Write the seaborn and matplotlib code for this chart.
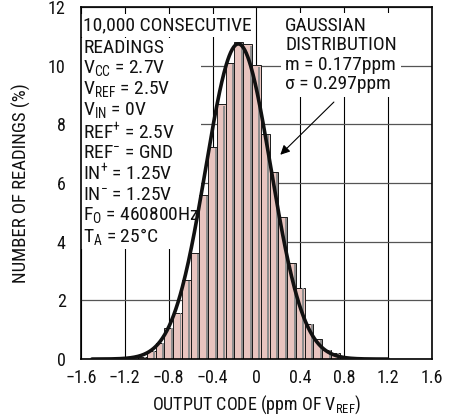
import numpy as np
import matplotlib
matplotlib.use("Agg")
import matplotlib.pyplot as plt
import seaborn as sns
from matplotlib.patches import Rectangle

# histogram of 10,000 readings, one bar per output code (0.08ppm wide)
bin_centers = [-1.04, -0.96, -0.88, -0.80, -0.72, -0.64, -0.56, -0.48, -0.40, -0.32, -0.24, -0.16,
               -0.08, 0.0, 0.08, 0.16, 0.24, 0.32, 0.40, 0.48, 0.56, 0.64, 0.72, 0.80]
readings_pct = [0.08, 0.27, 0.56, 1.07, 1.57, 2.69, 3.60, 5.59, 7.22, 8.68, 10.10, 10.82,
                10.74, 10.02, 7.69, 6.37, 4.85, 3.26, 2.44, 1.19, 0.67, 0.31, 0.22, 0.08]
bin_width = 0.08

# gaussian fit drawn over the bars
fit_mean = -0.165
fit_sigma = 0.297
fit_start, fit_end = -1.5, 1.2

x_ticks = [-1.6, -1.2, -0.8, -0.4, 0, 0.4, 0.8, 1.2, 1.6]
x_ticklabels = ["\u22121.6", "\u22121.2", "\u22120.8", "\u22120.4", "0", "0.4", "0.8", "1.2", "1.6"]
y_ticks = [0, 2, 4, 6, 8, 10, 12]

conditions = ["READINGS",
              "V$_{CC}$ = 2.7V",
              "V$_{REF}$ = 2.5V",
              "V$_{IN}$ = 0V",
              "REF$^{+}$ = 2.5V",
              "REF$^{-}$ = GND",
              "IN$^{+}$ = 1.25V",
              "IN$^{-}$ = 1.25V",
              "F$_{O}$ = 460800Hz",
              "T$_{A}$ = 25\u00b0C"]
fit_text = ["GAUSSIAN", "DISTRIBUTION", "m = 0.177ppm", "\u03c3 = 0.297ppm"]

sns.set_style("white")
fam = ['Liberation Sans Narrow', 'Roboto Condensed', 'Roboto', 'DejaVu Sans']
plt.rcParams['font.family'] = fam
plt.rcParams['mathtext.fontset'] = 'custom'
plt.rcParams['mathtext.rm'] = 'Roboto'
plt.rcParams['mathtext.default'] = 'regular'

fig = plt.figure(figsize=(4.55, 4.19), dpi=100)
ax = fig.add_axes([0.178, 0.143, 0.771, 0.840])

edges = [c - bin_width / 2 for c in bin_centers] + [bin_centers[-1] + bin_width / 2]
sns.histplot(x=bin_centers, weights=readings_pct, bins=edges, ax=ax,
             color="#e8c4bf", edgecolor="#1a1a1a", linewidth=0.7, alpha=1)

# grey shading strip on the right side of every bar
for p in list(ax.patches):
    px, pw, ph = p.get_x(), p.get_width(), p.get_height()
    ax.add_patch(Rectangle((px + pw * 0.74, 0), pw * 0.22, ph * 0.995,
                           facecolor="#8e8e8e", edgecolor="none", zorder=p.get_zorder() + 0.1))

xs = np.linspace(fit_start, fit_end, 400)
peak = 100 * bin_width / (fit_sigma * np.sqrt(2 * np.pi))
ys = peak * np.exp(-0.5 * ((xs - fit_mean) / fit_sigma) ** 2)
sns.lineplot(x=xs, y=ys, ax=ax, color="#111111", linewidth=2.6, zorder=4)

ax.set_xlim(-1.6, 1.6)
ax.set_ylim(0, 12)
ax.set_xticks(x_ticks)
ax.set_xticklabels(x_ticklabels)
ax.set_yticks(y_ticks)
ax.set_axisbelow(True)
ax.xaxis.grid(True, color="black", linewidth=0.8)
ax.yaxis.grid(True, color="#555555", linewidth=0.9)
ax.tick_params(axis="x", direction="in", length=4, width=1, pad=7, labelsize=13, colors="#111111")
ax.tick_params(axis="y", length=0, pad=11, labelsize=13, colors="#111111")
for s in ax.spines.values():
    s.set_color("black")
    s.set_linewidth(1.2)

ax.set_xlabel("OUTPUT CODE (ppm OF V$_{REF}$)", fontsize=13, labelpad=5, color="#111111")
ax.set_ylabel("NUMBER OF READINGS (%)", fontsize=13.5, labelpad=12, color="#111111")

box = dict(facecolor="white", edgecolor="none", pad=1.5)
ax.text(-1.58, 11.68, "10,000 CONSECUTIVE", fontsize=14, va="top", ha="left",
        bbox=box, zorder=0.8, color="#111111")
ax.text(-1.58, 10.92, "\n".join(conditions), fontsize=14, va="top", ha="left",
        linespacing=1.08, bbox=box, zorder=0.8, color="#111111")
ax.text(0.264, 11.66, "\n".join(fit_text), fontsize=14, va="top", ha="left",
        linespacing=1.1, bbox=dict(facecolor="white", edgecolor="none", pad=3), zorder=0.8,
        color="#111111")

ax.annotate("", xy=(0.2, 6.9), xytext=(0.725, 8.83),
            arrowprops=dict(arrowstyle="-|>", color="black", lw=0.8, mutation_scale=14),
            zorder=5)

fig.savefig("out.png", dpi=100)
